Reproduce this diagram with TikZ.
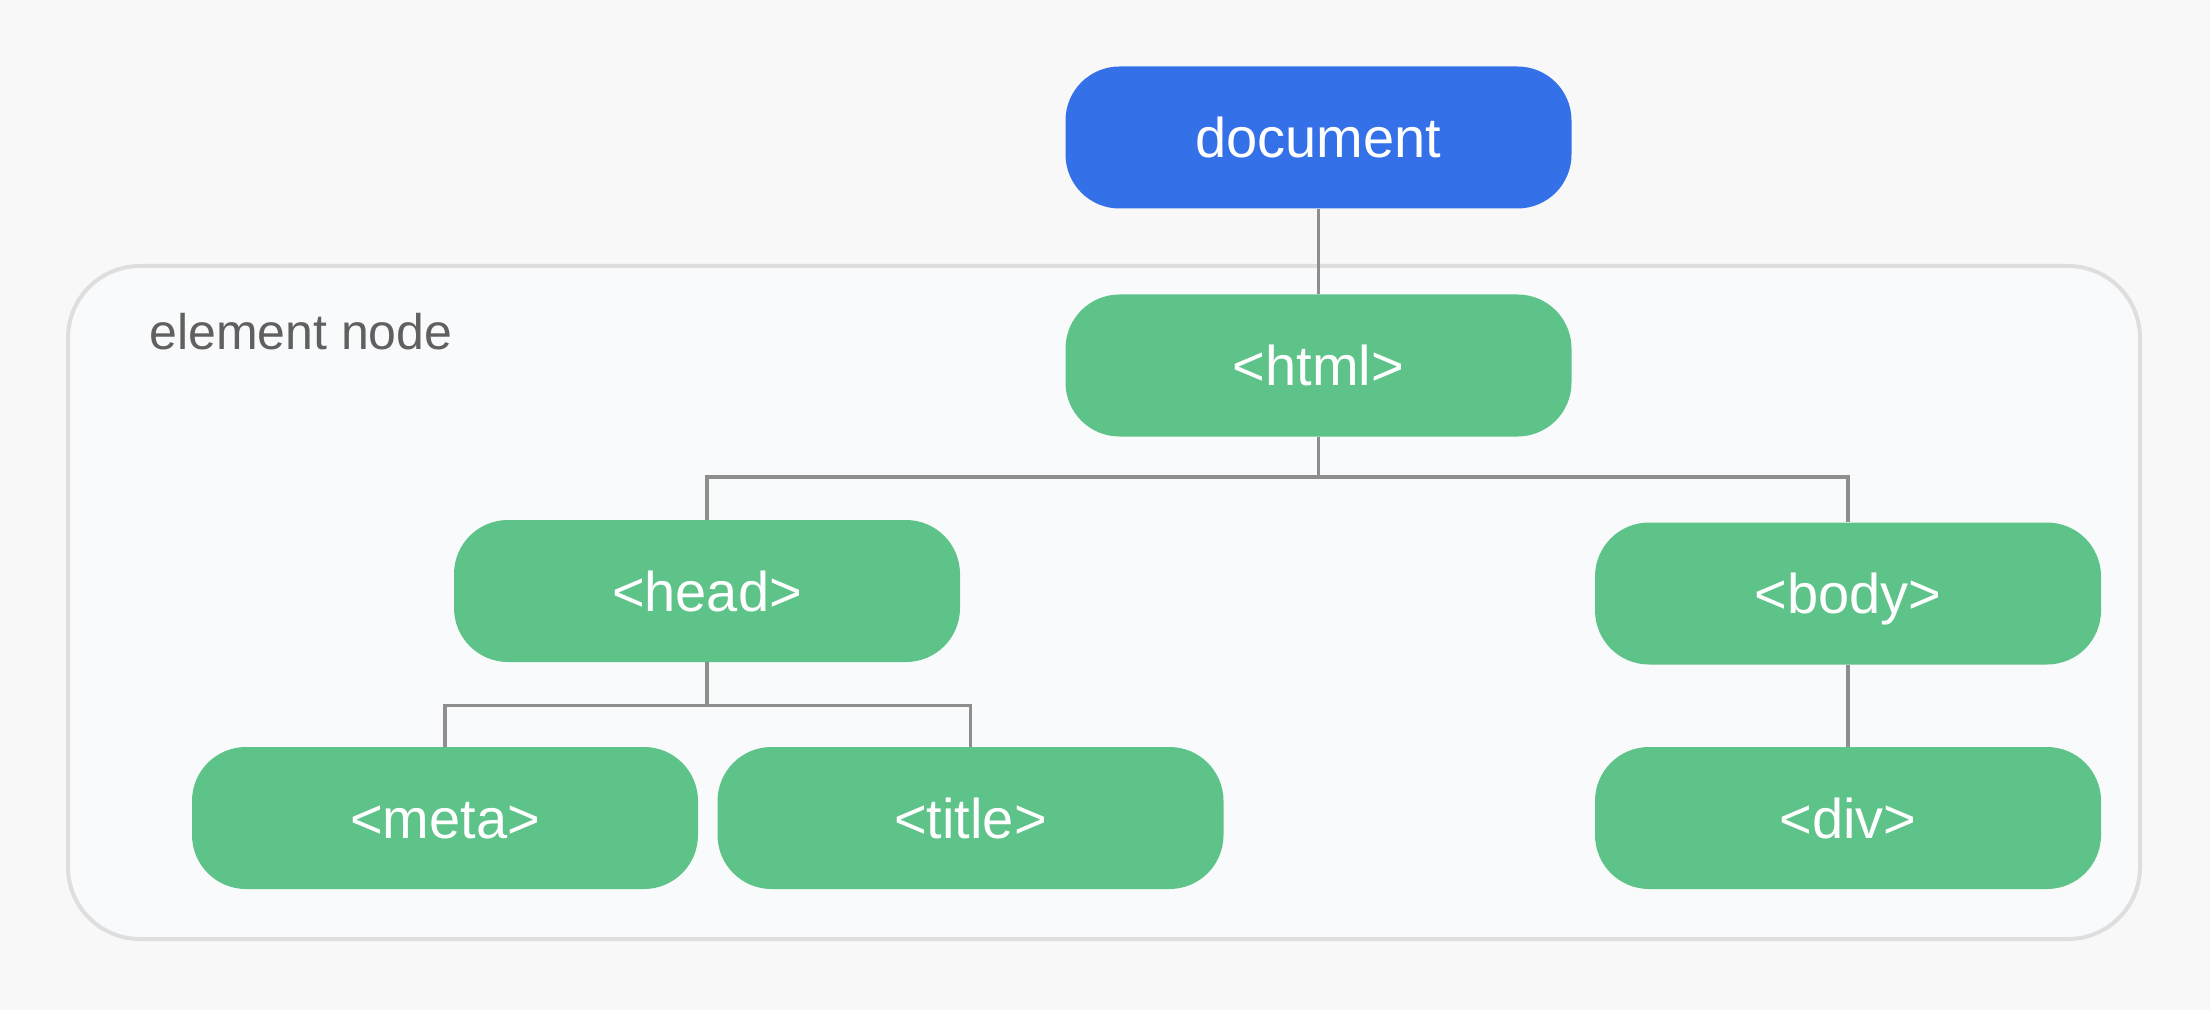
\documentclass[tikz,border=0pt]{standalone}
\usepackage{fontspec}
\setmainfont{Liberation Sans}
\definecolor{bgc}{HTML}{F8F8F8}
\definecolor{panelc}{HTML}{F9FAFC}
\definecolor{panelborder}{HTML}{DEDEDE}
\definecolor{docblue}{HTML}{3471E8}
\definecolor{elgreen}{HTML}{5DC389}
\definecolor{linkgray}{HTML}{8E8E8E}
\definecolor{labelgray}{HTML}{606060}
\tikzset{
  treebox/.style={rectangle, rounded corners=27pt, minimum width=253pt, minimum height=71pt,
    inner sep=0pt, text=white, font=\fontsize{28}{30}\selectfont, text height=20pt, text depth=0pt},
  docbox/.style={treebox, fill=docblue},
  elbox/.style={treebox, fill=elgreen},
  link/.style={draw=linkgray, line width=1.8pt, line join=miter},
}
\begin{document}
\begin{tikzpicture}[x=0.5pt,y=-0.5pt]
\useasboundingbox (0,0) rectangle (2210,1010);
\fill[bgc] (0,0) rectangle (2210,1010);
\draw[fill=panelc, draw=panelborder, line width=2pt, rounded corners=36pt] (68,266) rectangle (2140,939);
\node[anchor=base west, inner sep=0pt, text=labelgray, font=\fontsize{25}{28}\selectfont] (lbl) at (149,350) {element node};
\node[docbox] (doc) at (1318.5,137.5) {document};
\node[elbox] (html) at (1318.5,365.5) {<html>};
\node[elbox] (head) at (707,591) {<head>};
\node[elbox] (body) at (1848,593.5) {<body>};
\node[elbox] (meta) at (445,818) {<meta>};
\node[elbox] (title) at (970.5,818) {<title>};
\node[elbox] (div) at (1848,818) {<div>};
\draw[link] (doc.south) -- (html.north);
\draw[link] (html.south) -- ++(0,40) -| (head.north);
\draw[link] (html.south) -- ++(0,40) -| (body.north);
\draw[link] (head.south) -- ++(0,43) -| (meta.north);
\draw[link] (head.south) -- ++(0,43) -| (title.north);
\draw[link] (body.south) -- (div.north);
\end{tikzpicture}
\end{document}
